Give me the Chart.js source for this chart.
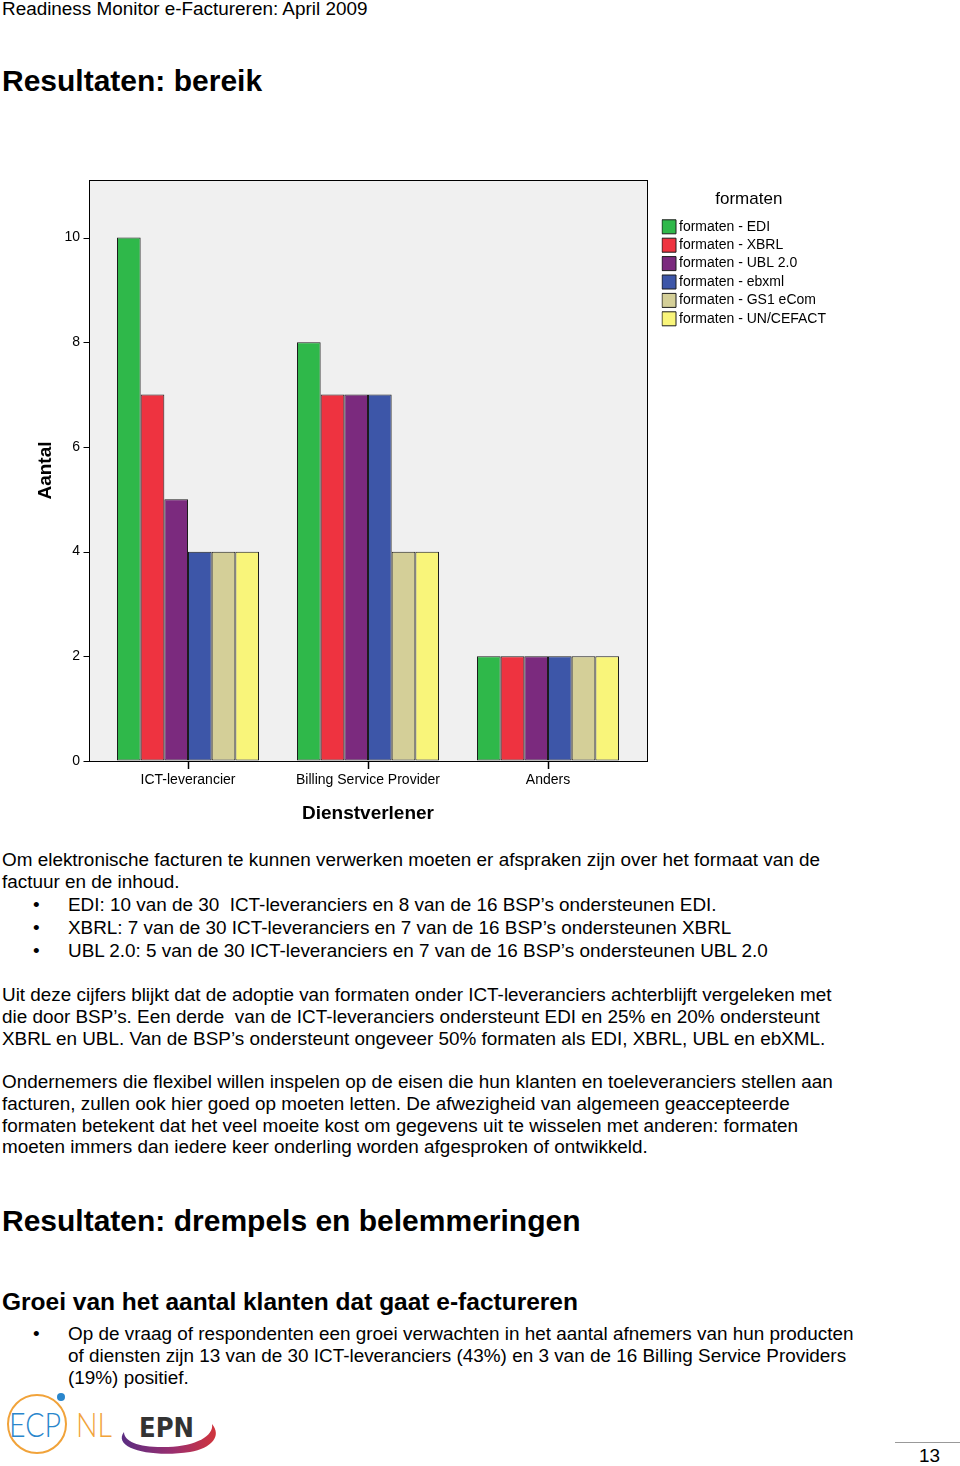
<!DOCTYPE html>
<html><head><meta charset="utf-8">
<script src="https://cdn.jsdelivr.net/npm/chart.js@4.4.0/dist/chart.umd.min.js"></script>
<style>
html,body{margin:0;padding:0;background:#fff;}
body{width:960px;height:1466px;position:relative;overflow:hidden;font-family:"Liberation Sans",Arial,Helvetica,sans-serif;color:#000;}
.l{position:absolute;left:2px;white-space:pre;font-size:18.9px;line-height:22px;}
.bl{position:absolute;left:68px;white-space:pre;font-size:18.9px;line-height:22px;}
.bu{position:absolute;left:33px;font-size:18.9px;line-height:22px;}
.h1{position:absolute;left:2px;white-space:pre;font-size:30px;line-height:34px;font-weight:bold;}
.h2{position:absolute;left:2px;white-space:pre;font-size:24.5px;line-height:28px;font-weight:bold;}
#wrap{position:absolute;left:0;top:170px;width:960px;height:660px;}
</style></head>
<body>
<div class="l" style="top:-1px;line-height:20px;">Readiness Monitor e-Factureren: April 2009</div>
<div class="h1" style="top:64px;">Resultaten: bereik</div>

<div id="wrap"><canvas id="c" width="960" height="660"></canvas></div>

<div class="l" style="top:849px;">Om elektronische facturen te kunnen verwerken moeten er afspraken zijn over het formaat van de</div>
<div class="l" style="top:871px;">factuur en de inhoud.</div>
<div class="bu" style="top:894px;">•</div><div class="bl" style="top:894px;">EDI: 10 van de 30  ICT-leveranciers en 8 van de 16 BSP’s ondersteunen EDI.</div>
<div class="bu" style="top:917px;">•</div><div class="bl" style="top:917px;">XBRL: 7 van de 30 ICT-leveranciers en 7 van de 16 BSP’s ondersteunen XBRL</div>
<div class="bu" style="top:940px;">•</div><div class="bl" style="top:940px;">UBL 2.0: 5 van de 30 ICT-leveranciers en 7 van de 16 BSP’s ondersteunen UBL 2.0</div>

<div class="l" style="top:984px;">Uit deze cijfers blijkt dat de adoptie van formaten onder ICT-leveranciers achterblijft vergeleken met</div>
<div class="l" style="top:1006px;">die door BSP’s. Een derde  van de ICT-leveranciers ondersteunt EDI en 25% en 20% ondersteunt</div>
<div class="l" style="top:1028px;">XBRL en UBL. Van de BSP’s ondersteunt ongeveer 50% formaten als EDI, XBRL, UBL en ebXML.</div>

<div class="l" style="top:1071px;">Ondernemers die flexibel willen inspelen op de eisen die hun klanten en toeleveranciers stellen aan</div>
<div class="l" style="top:1093px;">facturen, zullen ook hier goed op moeten letten. De afwezigheid van algemeen geaccepteerde</div>
<div class="l" style="top:1115px;">formaten betekent dat het veel moeite kost om gegevens uit te wisselen met anderen: formaten</div>
<div class="l" style="top:1136px;">moeten immers dan iedere keer onderling worden afgesproken of ontwikkeld.</div>

<div class="h1" style="top:1204px;">Resultaten: drempels en belemmeringen</div>
<div class="h2" style="top:1288px;">Groei van het aantal klanten dat gaat e-factureren</div>
<div class="bu" style="top:1323px;">•</div><div class="bl" style="top:1323px;">Op de vraag of respondenten een groei verwachten in het aantal afnemers van hun producten</div>
<div class="bl" style="top:1345px;">of diensten zijn 13 van de 30 ICT-leveranciers (43%) en 3 van de 16 Billing Service Providers</div>
<div class="bl" style="top:1367px;">(19%) positief.</div>

<svg style="position:absolute;left:0;top:1385px;" width="240" height="81" viewBox="0 1385 240 81">
  <defs>
    <linearGradient id="sw" x1="0" x2="1" y1="0" y2="0">
      <stop offset="0" stop-color="#5a2d82"/><stop offset="0.55" stop-color="#9b2f6e"/><stop offset="1" stop-color="#d0343c"/>
    </linearGradient>
  </defs>
  <circle cx="37" cy="1424" r="29" fill="none" stroke="#f1a33a" stroke-width="2"/>
  <circle cx="61" cy="1397" r="4" fill="#2a86cc"/>
  <text x="9" y="1437" font-family="Lato, 'Open Sans', sans-serif" font-weight="300" font-size="34" fill="#2a86cc" textLength="52" lengthAdjust="spacingAndGlyphs">ECP</text>
  <text x="76" y="1437" font-family="Lato, 'Open Sans', sans-serif" font-weight="300" font-size="34" fill="#f1a33a" textLength="36" lengthAdjust="spacingAndGlyphs">NL</text>
  <path d="M124 1432 C 112 1448, 150 1458, 190 1452 C 212 1448, 222 1436, 212 1424 C 214 1436, 196 1446, 168 1447 C 140 1448, 124 1442, 124 1432 Z" fill="url(#sw)"/>
  <text x="139" y="1437" font-family="'DejaVu Sans', sans-serif" font-weight="bold" font-size="26" fill="#333" textLength="55" lengthAdjust="spacingAndGlyphs">EPN</text>
</svg>

<div style="position:absolute;left:895px;top:1442px;width:65px;height:1px;background:#999;"></div>
<div class="l" style="left:919px;top:1445px;">13</div>

<script>
// ---- data ----
const categories = ['ICT-leverancier', 'Billing Service Provider', 'Anders'];
const seriesLabels = ['formaten - EDI', 'formaten - XBRL', 'formaten - UBL 2.0', 'formaten - ebxml', 'formaten - GS1 eCom', 'formaten - UN/CEFACT'];
const edi = [10, 8, 2];
const xbrl = [7, 7, 2];
const ubl = [5, 7, 2];
const ebxml = [4, 7, 2];
const gs1 = [4, 4, 2];
const uncefact = [4, 4, 2];
const yTicks = [0, 2, 4, 6, 8, 10];
const seriesColors = ['#2fb84a', '#ee3340', '#7b2a7e', '#3d56a8', '#d4cf98', '#f9f57a'];
const seriesValues = [edi, xbrl, ubl, ebxml, gs1, uncefact];

const FONT = "'Liberation Sans', Arial, sans-serif";
const FRAME_PAD = 9;
const LEG_PAD = 4.4;
const LEG_BOXW = 6;          // legend slot width (square itself is 14px, centred on the slot)
const AREA_RIGHT = 638;

// measure the widest legend label to place the legend box
const mctx = document.createElement('canvas').getContext('2d');
mctx.font = "14px " + FONT;
const maxLabelW = Math.max(...seriesLabels.map(s => mctx.measureText(s).width));
const legendW = LEG_PAD + LEG_BOXW + 7 + maxLabelW + 10;
const legendLeft = 662 + 7 - LEG_BOXW / 2 - LEG_PAD;
const rightPad = 960 - (legendLeft + legendW);
const gapW = legendLeft - AREA_RIGHT;

const framePlugin = {
  id: 'frame',
  beforeDraw(chart) {
    const {ctx, chartArea: a} = chart;
    ctx.save();
    ctx.fillStyle = '#f0f0f0';
    ctx.fillRect(a.left - FRAME_PAD, a.top, a.right - a.left + 2 * FRAME_PAD, a.bottom - a.top);
    ctx.restore();
  },
  afterDatasetsDraw(chart) {
    const {ctx, chartArea: a, scales} = chart;
    const L = Math.round(a.left - FRAME_PAD) + 0.5, R = Math.round(a.right + FRAME_PAD) + 0.5;
    const T = Math.round(a.top) + 0.5, B = Math.round(a.bottom) + 0.5;
    ctx.save();
    ctx.strokeStyle = '#000';
    ctx.lineWidth = 1;
    ctx.strokeRect(L, T, R - L, B - T);
    ctx.beginPath();
    scales.y.ticks.forEach(t => {
      const py = Math.round(scales.y.getPixelForValue(t.value)) + 0.5;
      ctx.moveTo(L - 6, py); ctx.lineTo(L, py);
    });
    ctx.stroke();
    ctx.restore();
  }
};

new Chart(document.getElementById('c'), {
  type: 'bar',
  data: {
    labels: categories,
    datasets: seriesValues.map((vals, i) => ({
      label: seriesLabels[i],
      data: vals,
      backgroundColor: seriesColors[i],
      borderColor: '#1c1c1c',
      borderWidth: 1,
      borderSkipped: false,
      categoryPercentage: 0.789,
      barPercentage: 1.0
    }))
  },
  options: {
    responsive: false,
    animation: false,
    layout: {padding: {left: 0, top: 10, right: rightPad, bottom: 0}},
    plugins: {
      tooltip: {enabled: false},
      legend: {
        position: 'right',
        align: 'start',
        maxWidth: 400,
        title: {display: true, text: 'formaten', color: '#000', font: {family: FONT, size: 17}, padding: {top: 11, bottom: 4}},
        labels: {
          color: '#000',
          font: {family: FONT, size: 14},
          usePointStyle: true,
          pointStyle: 'rect',
          boxWidth: LEG_BOXW, boxHeight: 14, padding: LEG_PAD
        }
      }
    },
    scales: {
      x: {
        offset: true,
        grid: {display: true, drawOnChartArea: false, offset: false, color: '#000', tickLength: 8, tickWidth: 1.5},
        border: {display: false},
        ticks: {color: '#000', font: {family: FONT, size: 14}, padding: 3, maxRotation: 0},
        title: {display: true, text: 'Dienstverlener', color: '#000', font: {family: FONT, size: 19, weight: 'bold'}, padding: {top: 0, bottom: 4.6}},
        afterFit(s) { s.height = 69; }
      },
      y: {
        min: 0, max: 11.1,
        afterBuildTicks(s) { s.ticks = yTicks.map(v => ({value: v})); },
        grid: {display: true, drawOnChartArea: false, drawTicks: true, tickLength: 18, color: 'rgba(0,0,0,0)'},
        border: {display: false},
        ticks: {color: '#000', font: {family: FONT, size: 14}, padding: 0},
        title: {display: true, text: 'Aantal', color: '#000', font: {family: FONT, size: 19, weight: 'bold'}, padding: {top: 34.6, bottom: 0}},
        afterFit(s) { s.width = 98; }
      },
      yr: {
        position: 'right',
        display: true,
        grid: {display: false, drawTicks: false},
        border: {display: false},
        ticks: {display: false},
        afterFit(s) { s.width = gapW; }
      }
    }
  },
  plugins: [framePlugin]
});
</script>
</body></html>
